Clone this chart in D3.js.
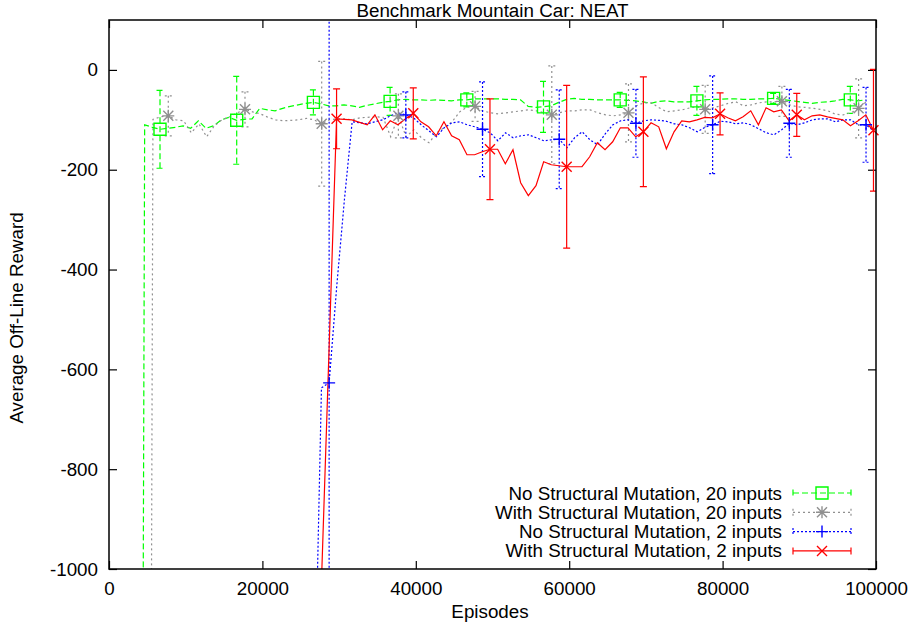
<!DOCTYPE html>
<html>
<head>
<meta charset="utf-8">
<script src="https://cdn.jsdelivr.net/npm/d3@7"></script>
<style>
body { margin: 0; background: #fff; }
svg text { font-family: "Liberation Sans", Arial, sans-serif; fill: #000; }
</style>
</head>
<body>
<div id="chart"></div>
<script>
// Benchmark Mountain Car: NEAT -- gnuplot style errorbar chart

var W = 910, H = 626;
var PL = 109, PR = 876, PT = 20, PB = 569; // plot frame in pixels
var FS = 18.8; // font size

var titleText = 'Benchmark Mountain Car: NEAT';
var xLabel = 'Episodes';
var yLabel = 'Average Off-Line Reward';
var xTicks = [0, 20000, 40000, 60000, 80000, 100000];
var yTicks = [-1000, -800, -600, -400, -200, 0];

var seriesNames = [
  'No Structural Mutation, 20 inputs',
  'With Structural Mutation, 20 inputs',
  'No Structural Mutation, 2 inputs',
  'With Structural Mutation, 2 inputs'
];

// samples are taken every 1000 episodes from the first episode below
var sampleStep = 1000;

var greenFirst = 3650;
var greenVals = [
  -5000,-110,-115,-119,-117,-115,-112,-117,-102,-117,
  -112,-100,-95,-101,-99,-98,-77,-80,-82,-77,
  -73,-70,-67,-65,-68,-72,-72,-70,-72,-75,
  -71,-68,-65,-63,-60,-59,-60,-60,-61,-60,
  -61,-62,-60,-60,-58,-58,-58,-58,-59,-59,
  -60,-73,-75,-74,-72,-65,-59,-57,-59,-59,
  -60,-60,-60,-60,-61,-62,-64,-67,-63,-62,
  -64,-64,-64,-62,-60,-59,-59,-58,-58,-59,
  -59,-58,-58,-57,-59,-61,-63,-65,-67,-65,
  -64,-62,-59,-60,-62,-60
];
var greenBarEp = [6650, 16650, 26650, 36650, 46650, 56650, 66650, 76650, 86650, 96650];
var greenBarErr = [78, 88, 25, 28, 14, 51, 15, 29, 10, 27];

var grayFirst = 4730;
var grayVals = [
  -5000,-99,-94,-92,-100,-102,-126,-108,-134,-112,
  -100,-94,-86,-79,-84,-88,-95,-100,-102,-101,
  -100,-97,-100,-108,-100,-98,-98,-100,-96,-95,
  -94,-95,-134,-92,-134,-120,-136,-146,-126,-115,
  -104,-84,-74,-73,-82,-86,-88,-86,-84,-82,
  -80,-82,-86,-90,-86,-82,-82,-80,-80,-86,
  -90,-92,-90,-86,-72,-66,-66,-76,-84,-82,
  -80,-76,-74,-79,-76,-72,-67,-64,-72,-70,
  -66,-64,-64,-63,-70,-74,-75,-77,-79,-82,
  -89,-90,-86,-77,-64
];
var grayBarEp = [7730, 17730, 27730, 37730, 47730, 57730, 67730, 77730, 87730, 97730];
var grayBarErr = [40, 35, 125, 44, 30, 98, 58, 48, 30, 59];

var blueFirst = 26700;
var blueVals = [
  -1350,-637,-627,-432,-259,-104,-106,-108,-104,-100,
  -92,-86,-90,-96,-110,-122,-134,-116,-106,-104,
  -110,-114,-119,-126,-142,-126,-136,-132,-130,-136,
  -142,-140,-139,-156,-136,-124,-140,-150,-128,-110,
  -102,-100,-107,-102,-100,-101,-103,-108,-110,-116,
  -124,-115,-110,-103,-104,-108,-106,-110,-118,-126,
  -130,-120,-107,-110,-106,-100,-98,-98,-104,-100,
  -100,-110,-110,-122
];
var blueBarEp = [28700, 38700, 48700, 58700, 68700, 78700, 88700, 98700];
var blueBarErr = [900, 46, 95, 99, 68, 98, 68, 75];

var redFirst = 27670;
var redVals = [
  -1040,-570,-98,-99,-100,-105,-110,-90,-120,-102,
  -110,-98,-87,-104,-114,-132,-104,-132,-140,-170,
  -170,-164,-159,-159,-188,-160,-226,-252,-232,-184,
  -190,-192,-194,-194,-194,-174,-146,-160,-144,-116,
  -116,-134,-124,-106,-114,-158,-124,-102,-104,-100,
  -95,-96,-88,-96,-102,-94,-82,-110,-76,-84,
  -80,-102,-90,-100,-92,-90,-94,-97,-100,-112,
  -102,-90,-121
];
var redBarEp = [29670, 39670, 49670, 59670, 69670, 79670, 89670, 99670];
var redBarErr = [60, 51, 101, 163, 110, 42, 43, 122];

var x = d3.scaleLinear().domain([0, 100000]).range([PL, PR]);
var y = d3.scaleLinear().domain([-1000, 100]).range([PB, PT]);

function makeSeries(name, first, vals, barEp, barErr, color, dash, shape){
  var pts = vals.map(function(v, i){ return {ep: first + i*sampleStep, r: v}; });
  var bars = barEp.map(function(e, i){
    var p = pts.find(function(d){ return d.ep == e; });
    return {ep: e, r: p.r, err: barErr[i]};
  });
  return {name: name, pts: pts, bars: bars, color: color, dash: dash, shape: shape};
}

var series = [
  makeSeries(seriesNames[0], greenFirst, greenVals, greenBarEp, greenBarErr, '#00ff00', '6,3', 'square'),
  makeSeries(seriesNames[1], grayFirst, grayVals, grayBarEp, grayBarErr, '#909090', '2,3', 'star'),
  makeSeries(seriesNames[2], blueFirst, blueVals, blueBarEp, blueBarErr, '#0000ff', '2,2', 'plus'),
  makeSeries(seriesNames[3], redFirst, redVals, redBarEp, redBarErr, '#ff0000', null, 'cross')
];

function markerPath(shape, cx, cy){
  var s = 6, c = 5;
  var plus = 'M'+(cx-s)+','+cy+'h'+(2*s)+'M'+cx+','+(cy-s)+'v'+(2*s);
  var cross = 'M'+(cx-c)+','+(cy-c)+'l'+(2*c)+','+(2*c)+'M'+(cx-c)+','+(cy+c)+'l'+(2*c)+','+(-2*c);
  if(shape == 'square'){ return 'M'+(cx-s)+','+(cy-s)+'h'+(2*s)+'v'+(2*s)+'h'+(-2*s)+'z'; }
  if(shape == 'plus'){ return plus; }
  if(shape == 'cross'){ return cross; }
  return plus + cross; // star
}

function barPath(d){
  var cx = x(d.ep), y1 = y(d.r + d.err), y2 = y(d.r - d.err), cap = 3.5;
  return 'M'+cx+','+y1+'V'+y2+
    'M'+(cx-cap)+','+y1+'h'+(2*cap)+
    'M'+(cx-cap)+','+y2+'h'+(2*cap);
}

function plainNum(d){ return String(d); } // keep ascii hyphen like gnuplot

var svg = d3.select('#chart').append('svg')
  .attr('width', W)
  .attr('height', H);

svg.append('defs').append('clipPath')
  .attr('id', 'plotClip')
  .append('rect')
    .attr('x', PL).attr('y', PT)
    .attr('width', PR - PL).attr('height', PB - PT);

// axes with inward ticks, mirrored on top and right
var tickLen = 8;
svg.append('g')
  .attr('transform', 'translate(0,' + PB + ')')
  .call(d3.axisBottom(x).tickValues(xTicks).tickSize(-tickLen).tickPadding(13).tickFormat(plainNum))
  .call(styleAxis);
svg.append('g')
  .attr('transform', 'translate(0,' + PT + ')')
  .call(d3.axisTop(x).tickValues(xTicks).tickSize(-tickLen).tickFormat(''))
  .call(styleAxis);
svg.append('g')
  .attr('transform', 'translate(' + PL + ',0)')
  .call(d3.axisLeft(y).tickValues(yTicks).tickSize(-tickLen).tickPadding(11).tickFormat(plainNum))
  .call(styleAxis);
svg.append('g')
  .attr('transform', 'translate(' + PR + ',0)')
  .call(d3.axisRight(y).tickValues(yTicks).tickSize(-tickLen).tickFormat(''))
  .call(styleAxis);

function styleAxis(g){
  g.select('.domain').remove();
  g.selectAll('.tick line').attr('stroke', '#000').attr('stroke-width', 1.2);
  g.selectAll('.tick text')
    .style('font-size', FS + 'px')
    .style('font-family', '"Liberation Sans", Arial, sans-serif')
    .attr('fill', '#000');
}

var plot = svg.append('g').attr('clip-path', 'url(#plotClip)');
var line = d3.line()
  .x(function(d){ return x(d.ep); })
  .y(function(d){ return y(d.r); });

series.forEach(function(s){
  plot.append('path')
    .attr('d', line(s.pts))
    .attr('fill', 'none')
    .attr('stroke', s.color)
    .attr('stroke-width', 1.2)
    .attr('stroke-dasharray', s.dash);
  plot.selectAll(null)
    .data(s.bars)
    .enter()
    .append('path')
      .attr('d', barPath)
      .attr('fill', 'none')
      .attr('stroke', s.color)
      .attr('stroke-width', 1.2)
      .attr('stroke-dasharray', s.dash);
  svg.selectAll(null)
    .data(s.bars)
    .enter()
    .append('path')
      .attr('d', function(d){ return markerPath(s.shape, x(d.ep), y(d.r)); })
      .attr('fill', 'none')
      .attr('stroke', s.color)
      .attr('stroke-width', 1.4);
});

// frame
svg.append('rect')
  .attr('x', PL).attr('y', PT)
  .attr('width', PR - PL).attr('height', PB - PT)
  .attr('fill', 'none')
  .attr('stroke', '#000')
  .attr('stroke-width', 1.5);

// legend, gnuplot key in the lower right
var keyTextX = 782, keyL = 793, keyR = 851, keyY0 = 493, keyDY = 19.3;
series.forEach(function(s, i){
  var ky = keyY0 + i*keyDY, kx = (keyL + keyR)/2;
  svg.append('text')
    .attr('x', keyTextX).attr('y', ky)
    .attr('dy', '0.35em')
    .attr('text-anchor', 'end')
    .style('font-size', FS + 'px')
    .text(s.name);
  svg.append('path')
    .attr('d', 'M'+keyL+','+ky+'H'+keyR+'M'+keyL+','+(ky-3.5)+'v7M'+keyR+','+(ky-3.5)+'v7')
    .attr('fill', 'none')
    .attr('stroke', s.color)
    .attr('stroke-width', 1.2)
    .attr('stroke-dasharray', s.dash);
  svg.append('path')
    .attr('d', markerPath(s.shape, kx, ky))
    .attr('fill', 'none')
    .attr('stroke', s.color)
    .attr('stroke-width', 1.4);
});

svg.append('text')
  .attr('x', (PL + PR)/2).attr('y', 17)
  .attr('text-anchor', 'middle')
  .style('font-size', FS + 'px')
  .text(titleText);

svg.append('text')
  .attr('x', 490).attr('y', 618)
  .attr('text-anchor', 'middle')
  .style('font-size', FS + 'px')
  .text(xLabel);

svg.append('text')
  .attr('transform', 'translate(23,318) rotate(-90)')
  .attr('text-anchor', 'middle')
  .style('font-size', FS + 'px')
  .text(yLabel);
</script>
</body>
</html>
